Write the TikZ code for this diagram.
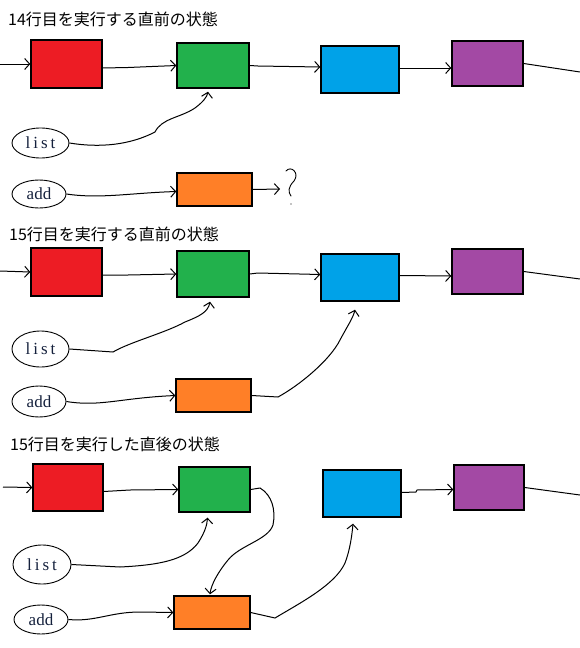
\documentclass[tikz,border=0pt]{standalone}
\usepackage{fontspec}
\setmainfont{Liberation Serif}
\newfontfamily\jpfont{Noto Sans CJK JP}
\usetikzlibrary{arrows.meta,calc,shapes.geometric}
\definecolor{cRed}{HTML}{ED1C24}
\definecolor{cGreen}{HTML}{22B14C}
\definecolor{cBlue}{HTML}{00A2E8}
\definecolor{cPurple}{HTML}{A349A4}
\definecolor{cOrange}{HTML}{FF7F27}
\definecolor{ptrText}{RGB}{20,32,60}
\begin{document}
\begin{tikzpicture}[x=1pt,y=-1pt,
  cell/.style={draw,line width=1.4pt,inner sep=0pt},
  ptr/.style={ellipse,draw,line width=0.9pt,inner sep=0pt,text=ptrText,
    font=\fontsize{17}{17}\selectfont},
  wide/.style={font=\fontsize{17}{17}\selectfont\addfontfeature{LetterSpace=18}},
  link/.style={line width=1pt},
  arr/.style={link,-{Straight Barb[length=5pt,width=11pt]}},
  title/.style={anchor=west,inner sep=0pt,font=\jpfont\fontsize{16}{16}\selectfont}]
\useasboundingbox (0,0) rectangle (580,648);

% ---------- section 1 ----------
\node[title] (t1) at (8,19.5) {14行目を実行する直前の状態};
\node[cell,fill=cRed,minimum width=71pt,minimum height=48pt] (r1) at (66.5,64) {};
\node[cell,fill=cGreen,minimum width=72pt,minimum height=45pt] (g1) at (213,65.5) {};
\node[cell,fill=cBlue,minimum width=78pt,minimum height=47pt] (b1) at (360,69.5) {};
\node[cell,fill=cPurple,minimum width=71pt,minimum height=45pt] (p1) at (487.5,63.5) {};
\node[cell,fill=cOrange,minimum width=75pt,minimum height=33pt] (o1) at (214.5,189.5) {};
\node[ptr,wide,minimum width=57pt,minimum height=30pt] (list1) at (40.5,143) {list};
\node[ptr,minimum width=54pt,minimum height=28pt] (add1) at (39,194) {add};
\coordinate (in1) at (0,64);
\coordinate (out1) at (580,72);
\coordinate (q1) at (280,189);

\draw[arr] (in1) -- (r1.west);
\draw[arr] ($(r1.east)+(0,4)$) -- (128,67.5) -- (g1.west);
\draw[arr] (g1.east) -- (258,66) -- ($(b1.west)+(0,-2.5)$);
\draw[arr] ($(b1.east)+(0,-1.5)$) -- ($(p1.west)+(0,4.5)$);
\draw[link] (p1.east) -- (out1);
\draw[arr] (list1.east) .. controls (100,148) and (130,145) .. (155,132)
  .. controls (162,118) and (180,118) .. (195,108)
  .. controls (203,102) and (207,97) .. ($(g1.south)+(-5,3)$);
\draw[arr] (add1.east) .. controls (100,199) and (130,193) .. ($(o1.west)+(0,2)$);
\draw[arr] (o1.east) -- (q1);
\draw[line width=0.9pt,line cap=round] (286,171) .. controls (291,165) and (300,173) .. (294,181)
  .. controls (288,187) and (288,192) .. (291,196);
\fill (291,204) circle (0.7pt);

% ---------- section 2 ----------
\node[title] (t2) at (9,234) {15行目を実行する直前の状態};
\node[cell,fill=cRed,minimum width=71pt,minimum height=48pt] (r2) at (66.5,272) {};
\node[cell,fill=cGreen,minimum width=72pt,minimum height=46pt] (g2) at (213,274) {};
\node[cell,fill=cBlue,minimum width=78pt,minimum height=47pt] (b2) at (360,277.5) {};
\node[cell,fill=cPurple,minimum width=71pt,minimum height=45pt] (p2) at (487.5,271.5) {};
\node[cell,fill=cOrange,minimum width=75pt,minimum height=33pt] (o2) at (213.5,395.5) {};
\node[ptr,wide,minimum width=57pt,minimum height=36pt] (list2) at (40.5,349) {list};
\node[ptr,minimum width=54pt,minimum height=31pt] (add2) at (39,401.5) {add};
\coordinate (in2) at (0,271);
\coordinate (out2) at (580,279);

\draw[arr] (in2) -- (r2.west);
\draw[arr] ($(r2.east)+(0,3)$) -- (128,275) -- (g2.west);
\draw[arr] (g2.east) -- (258,273) -- ($(b2.west)+(0,-3)$);
\draw[arr] ($(b2.east)+(0,-2)$) -- ($(p2.west)+(0,4.5)$);
\draw[link] (p2.east) -- (out2);
\draw[arr] (list2.east) -- (113,352) .. controls (130,342) and (165,333) .. (185,322)
  .. controls (200,316) and (208,312) .. ($(g2.south)+(-3,4)$);
\draw[arr] (add2.east) .. controls (100,407) and (120,398) .. (o2.west);
\draw[arr] (o2.east) -- (278,397) .. controls (300,385) and (330,360) .. (340,340)
  .. controls (348,325) and (353,318) .. ($(b2.south)+(-5,8)$);

% ---------- section 3 ----------
\node[title] (t3) at (10,444.5) {15行目を実行した直後の状態};
\node[cell,fill=cRed,minimum width=70pt,minimum height=47pt] (r3) at (68,487.5) {};
\node[cell,fill=cGreen,minimum width=71pt,minimum height=45pt] (g3) at (214.5,489.5) {};
\node[cell,fill=cBlue,minimum width=78pt,minimum height=47pt] (b3) at (362,493.5) {};
\node[cell,fill=cPurple,minimum width=70pt,minimum height=45pt] (p3) at (489,487.5) {};
\node[cell,fill=cOrange,minimum width=76pt,minimum height=33pt] (o3) at (212,612.5) {};
\node[ptr,wide,minimum width=58pt,minimum height=39pt] (list3) at (42,564.5) {list};
\node[ptr,minimum width=54pt,minimum height=29pt] (add3) at (41,619.5) {add};
\coordinate (in3) at (3,487);
\coordinate (out3) at (580,495);

\draw[arr] (in3) -- (r3.west);
\draw[arr] ($(r3.east)+(0,4)$) -- (130,490) -- (g3.west);
\draw[arr] ($(b3.east)+(0,-1)$) -- (416,492) -- (417,490) -- ($(p3.west)+(0,2)$);
\draw[link] (p3.east) -- (out3);
\draw[arr] (g3.east) -- (260,488) .. controls (272,495) and (276,510) .. (273,525)
  .. controls (268,540) and (240,545) .. (228,560)
  .. controls (218,572) and (211,585) .. ($(o3.north)+(-2,-1)$);
\draw[arr] (list3.east) -- (120,567) .. controls (160,565) and (185,560) .. (198,543)
  .. controls (205,532) and (207,525) .. ($(g3.south)+(-7,5)$);
\draw[arr] (add3.east) .. controls (95,622) and (110,612) .. (140,612) -- (o3.west);
\draw[arr] (o3.east) -- (275,618) .. controls (300,603) and (335,585) .. (345,563)
  .. controls (350,550) and (352,535) .. ($(b3.south)+(-9,6)$);
\end{tikzpicture}
\end{document}
